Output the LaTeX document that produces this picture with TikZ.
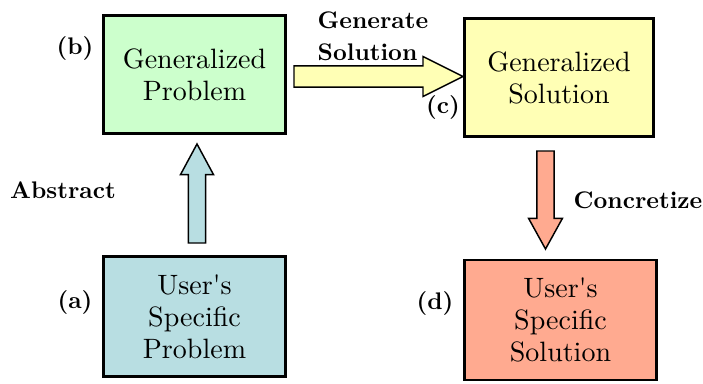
\documentclass[tikz,border=0pt]{standalone}
\usepackage{fontspec}
\usepackage{tikz}
\usetikzlibrary{calc}
\newfontfamily\boxfont{lmroman10-regular.otf}
\newfontfamily\tagfont{lmroman10-bold.otf}
\definecolor{probgreen}{HTML}{CCFFCC}
\definecolor{solyellow}{HTML}{FFFFB5}
\definecolor{userblue}{HTML}{B8DEE2}
\definecolor{usersalmon}{HTML}{FFAA90}
\newcommand{\us}{User\textquotesingle s}
% fat block arrow: from, to, fill, half shaft, half head, head length
\newcommand{\fatarrow}[6]{%
  \path ($(#2)!#6!(#1)$) coordinate (hb);
  \draw[arrowline,fill=#3] ($(#1)!#4!90:(#2)$) -- ($(hb)!#4!90:(#2)$)
    -- ($(hb)!#5!90:(#2)$) -- (#2) -- ($(hb)!#5!-90:(#2)$)
    -- ($(hb)!#4!-90:(#2)$) -- ($(#1)!#4!-90:(#2)$) -- cycle;}

\begin{document}
\begin{tikzpicture}[x=0.75pt,y=-0.75pt,
  box/.style={draw,line width=2.2pt,minimum height=89pt,align=center,
    font={\boxfont\fontsize{21}{24}\selectfont}},
  tag/.style={font={\tagfont\fontsize{18}{24}\selectfont},align=left},
  arrowline/.style={line width=1.1pt,line join=miter}]
  \useasboundingbox (0,0) rectangle (703,383);
  % the four boxes
  \node[box,fill=probgreen,minimum width=136pt] (genprob) at (194.5,74.5) {Generalized\\Problem};
  \node[box,fill=solyellow,minimum width=142pt] (gensol) at (559,77.5) {Generalized\\Solution};
  \node[box,fill=userblue,minimum width=136pt,minimum height=90pt] (userprob) at (194.5,316.5) {\us\\Specific\\Problem};
  \node[box,fill=usersalmon,minimum width=144pt,minimum height=90pt] (usersol) at (560.5,320) {\us\\Specific\\Solution};
  % letters
  \node[tag] (tb) at (75,48) {(b)};
  \node[tag] (tc) at (443,107) {(c)};
  \node[tag] (ta) at (75,302) {(a)};
  \node[tag] (td) at (435,303) {(d)};
  % step names
  \node[tag] (abstr) at (63,190) {Abstract};
  \node[tag,anchor=west] (gener) at (313,36) {Generate\\Solution};
  \node[tag] (concr) at (638,200) {Concretize};
  % block arrows between the boxes
  \coordinate (up0) at (197,243);
  \coordinate (up1) at (197,144);
  \coordinate (rt0) at (294,76.5);
  \coordinate (rt1) at (463,76.5);
  \coordinate (dn0) at (545.5,151);
  \coordinate (dn1) at (545.5,249);
  \fatarrow{up0}{up1}{userblue}{6.4pt}{12.4pt}{23pt}
  \fatarrow{rt0}{rt1}{solyellow}{7.9pt}{15pt}{30pt}
  \fatarrow{dn0}{dn1}{usersalmon}{6.4pt}{12.7pt}{23pt}
\end{tikzpicture}
\end{document}
